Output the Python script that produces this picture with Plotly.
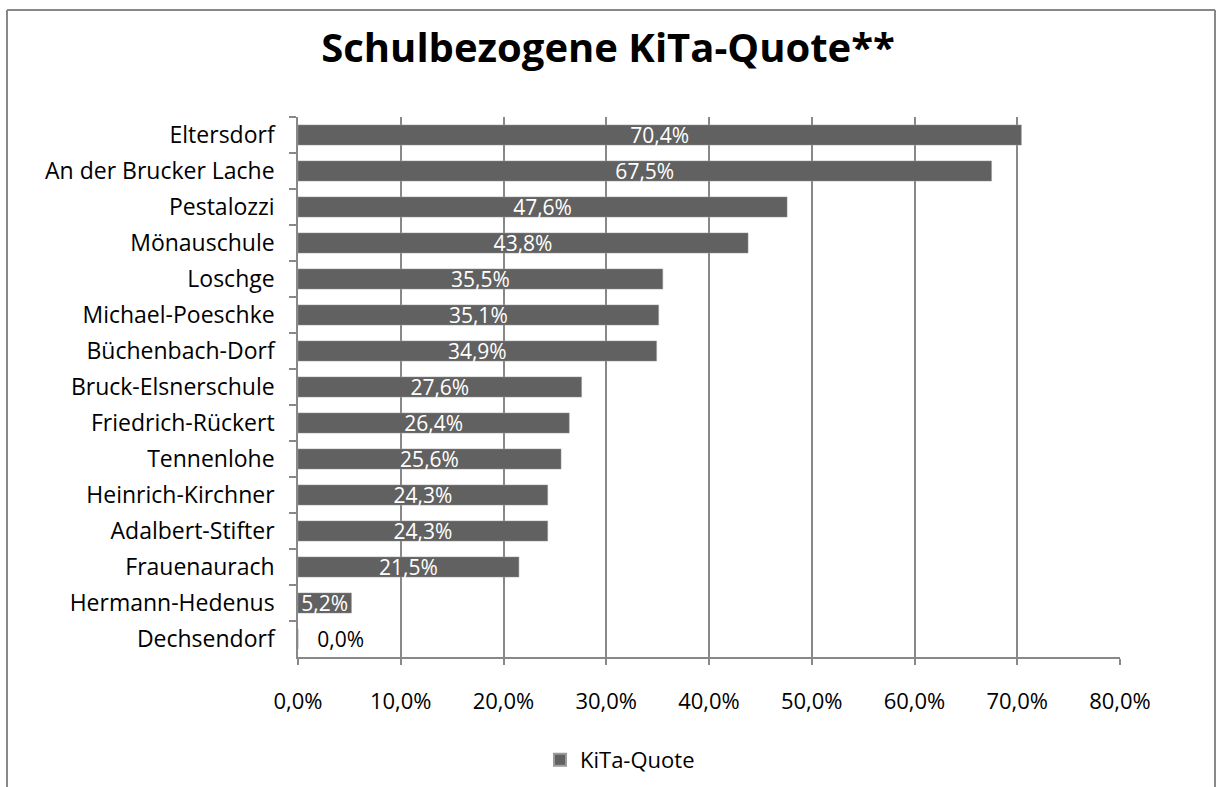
import plotly.graph_objects as go

schools = ["Eltersdorf", "An der Brucker Lache", "Pestalozzi", "Mönauschule", "Loschge",
           "Michael-Poeschke", "Büchenbach-Dorf", "Bruck-Elsnerschule", "Friedrich-Rückert",
           "Tennenlohe", "Heinrich-Kirchner", "Adalbert-Stifter", "Frauenaurach",
           "Hermann-Hedenus", "Dechsendorf"]
quote = [0.704, 0.675, 0.476, 0.438, 0.355, 0.351, 0.349, 0.276, 0.264, 0.256,
         0.243, 0.243, 0.215, 0.052, 0.0]
x_ticks = [0, 0.1, 0.2, 0.3, 0.4, 0.5, 0.6, 0.7, 0.8]

W, H = 1216, 787
L, R, T, B = 298, 96, 117, 130
pw, ph = W - L - R, H - T - B

FONT = "Open Sans"
bar_color = "#616161"
grid_color = "#888888"

positions = ["outside" if v == 0 else "inside" for v in quote]
text_colors = ["black" if v == 0 else "white" for v in quote]
templates = ["\u00a0\u00a0\u00a0%{x:.1%}" if v == 0 else "%{x:.1%}" for v in quote]

fig = go.Figure()
fig.add_trace(go.Bar(
    y=schools, x=quote, orientation="h", name="KiTa-Quote",
    marker=dict(color=bar_color, line=dict(color="#9a9a9a", width=0.5)),
    texttemplate=templates, textposition=positions,
    insidetextanchor="middle",
    textfont=dict(family=FONT, size=21, color=text_colors),
    cliponaxis=False,
))

def px_x(p):
    return (p - L) / pw

def px_y(p):
    return 1 - (p - T) / ph

fig.update_layout(
    width=W, height=H,
    margin=dict(l=L, r=R, t=T, b=B, autoexpand=False),
    paper_bgcolor="white", plot_bgcolor="white",
    separators=",.",
    bargap=0.44,
    uniformtext=dict(mode="show", minsize=21),
    title=dict(text="<b>Schulbezogene KiTa-Quote**</b>", x=0.5, xanchor="center",
               y=1 - 48 / H, yanchor="middle",
               font=dict(family=FONT, size=40, color="black")),
    font=dict(family=FONT, size=22, color="black"),
    showlegend=True,
    legend=dict(orientation="h", x=px_x(620), xanchor="center", y=px_y(760), yanchor="middle",
                font=dict(family=FONT, size=22, color="black"),
                itemsizing="constant"),
    xaxis=dict(range=[0, 0.8], tickvals=x_ticks, tickformat=".1%", automargin=False,
               showgrid=True, gridcolor=grid_color, gridwidth=1.5,
               showline=True, linecolor=grid_color, linewidth=1.5,
               ticks="outside", ticklen=6, tickcolor=grid_color, tickwidth=1.5,
               zeroline=False, tickfont=dict(family=FONT, size=22),
               ticklabelstandoff=18),
    yaxis=dict(autorange="reversed", showline=True, linecolor=grid_color, linewidth=1.5,
               automargin=False,
               ticks="outside", ticklen=7, tickcolor=grid_color, tickwidth=1.5,
               tickson="boundaries", showgrid=False,
               tickfont=dict(family=FONT, size=23), ticklabelstandoff=17),
    shapes=[
        dict(type="line", xref="paper", yref="paper", x0=px_x(7), x1=px_x(7),
             y0=px_y(10), y1=px_y(800), line=dict(color="#888888", width=2)),
        dict(type="line", xref="paper", yref="paper", x0=px_x(7), x1=px_x(1215),
             y0=px_y(10), y1=px_y(10), line=dict(color="#888888", width=2)),
        dict(type="line", xref="paper", yref="paper", x0=px_x(1215), x1=px_x(1215),
             y0=px_y(10), y1=px_y(800), line=dict(color="#888888", width=2)),
    ],
)

fig.write_html("out.html", config={"displayModeBar": False},
               post_script="document.body.style.margin='0';")
